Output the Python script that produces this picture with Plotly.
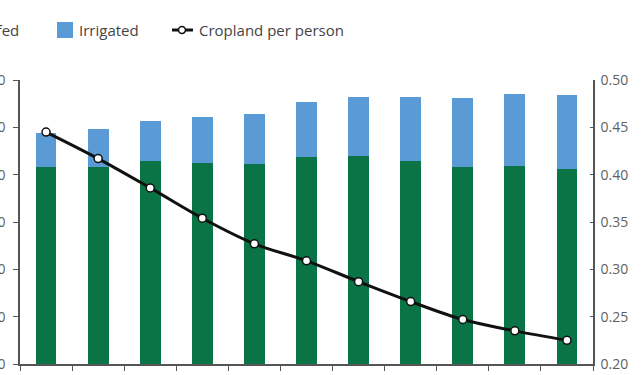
import plotly.graph_objects as go

years = ["1961", "1966", "1971", "1976", "1981", "1986", "1991", "1996", "2001", "2006", "2009"]
rainfed = [1249, 1249, 1287, 1272, 1266, 1310, 1316, 1287, 1247, 1253, 1234]
irrigated = [215, 240, 255, 291, 319, 351, 374, 403, 437, 458, 469]
per_person = [0.445, 0.417, 0.386, 0.354, 0.327, 0.309, 0.287, 0.266, 0.247, 0.235, 0.225]
left_ticks = [0, 300, 600, 900, 1200, 1500, 1800]
right_ticks = [0.20, 0.25, 0.30, 0.35, 0.40, 0.45, 0.50]

GREEN = "#0b7446"
BLUE = "#5b9bd5"
AXIS = "#555555"
TXT = "#5f5f5f"
FONT = "Open Sans"

# plot-area geometry in pixels (for legend placement only)
L, R, T, B = 20, 593, 80, 364
W, H = R - L, B - T


def px(x):
    return (x - L) / W


def py(y):
    return (B - y) / H


fig = go.Figure()
fig.add_trace(go.Bar(x=years, y=rainfed, name="Rainfed", marker_color=GREEN,
                     marker_line_width=0, width=0.4, showlegend=False))
fig.add_trace(go.Bar(x=years, y=irrigated, name="Irrigated", marker_color=BLUE,
                     marker_line_width=0, width=0.4, showlegend=False))
fig.add_trace(go.Scatter(x=years, y=per_person, name="Cropland per person", yaxis="y2",
                         mode="lines+markers", line=dict(color="#111111", width=3, shape="spline"),
                         marker=dict(symbol="circle", size=8, color="white",
                                     line=dict(color="#111111", width=1.5)),
                         showlegend=False))

# custom legend
shapes = [
    dict(type="rect", xref="paper", yref="paper", x0=px(-56), x1=px(-40), y0=py(38), y1=py(22),
         fillcolor=GREEN, line_width=0),
    dict(type="rect", xref="paper", yref="paper", x0=px(57), x1=px(73), y0=py(38), y1=py(22),
         fillcolor=BLUE, line_width=0),
    dict(type="line", xref="paper", yref="paper", x0=px(172), x1=px(193), y0=py(30), y1=py(30),
         line=dict(color="#111111", width=3)),
    dict(type="circle", xref="paper", yref="paper", x0=px(178.5), x1=px(185.5), y0=py(33.5), y1=py(26.5),
         fillcolor="white", line=dict(color="#111111", width=1.5)),
]
annotations = [
    dict(text="Rainfed", xref="paper", yref="paper", x=px(21), y=py(30), xanchor="right",
         yanchor="middle", showarrow=False, font=dict(family=FONT, size=15, color="#444444")),
    dict(text="Irrigated", xref="paper", yref="paper", x=px(77), y=py(30), xanchor="left",
         yanchor="middle", showarrow=False, font=dict(family=FONT, size=15, color="#444444")),
    dict(text="Cropland per person", xref="paper", yref="paper", x=px(197), y=py(30), xanchor="left",
         yanchor="middle", showarrow=False, font=dict(family=FONT, size=15, color="#444444")),
]

fig.update_layout(
    width=641, height=375,
    margin=dict(l=L, r=641 - R, t=T, b=375 - B, autoexpand=False),
    paper_bgcolor="white", plot_bgcolor="white",
    barmode="stack", bargap=0.6,
    showlegend=False,
    shapes=shapes, annotations=annotations,
    font=dict(family=FONT, size=14, color=TXT),
    xaxis=dict(type="category", range=[-0.5, 10.5], showgrid=False, showline=True,
               linecolor=AXIS, linewidth=1.5, ticks="outside", tickson="boundaries",
               ticklen=5, tickcolor=AXIS, showticklabels=False, zeroline=False, automargin=False),
    yaxis=dict(range=[0, 1800], tickvals=left_ticks, showgrid=False, showline=True,
               linecolor=AXIS, linewidth=1.5, ticks="outside", ticklen=5, tickcolor=AXIS,
               tickformat="d", ticklabelstandoff=5, zeroline=False, automargin=False,
               tickfont=dict(family=FONT, size=14, color=TXT)),
    yaxis2=dict(range=[0.20, 0.50], tickvals=right_ticks, overlaying="y", side="right",
                showgrid=False, showline=True, linecolor=AXIS, linewidth=1.5,
                ticks="inside", ticklen=3, tickcolor=AXIS, tickformat=".2f",
                ticklabelstandoff=3, zeroline=False, automargin=False,
                tickfont=dict(family=FONT, size=14, color=TXT)),
)

fig.write_html("out.html", config={"displayModeBar": False},
               post_script="document.body.style.margin='0px';document.body.style.overflow='hidden';")
